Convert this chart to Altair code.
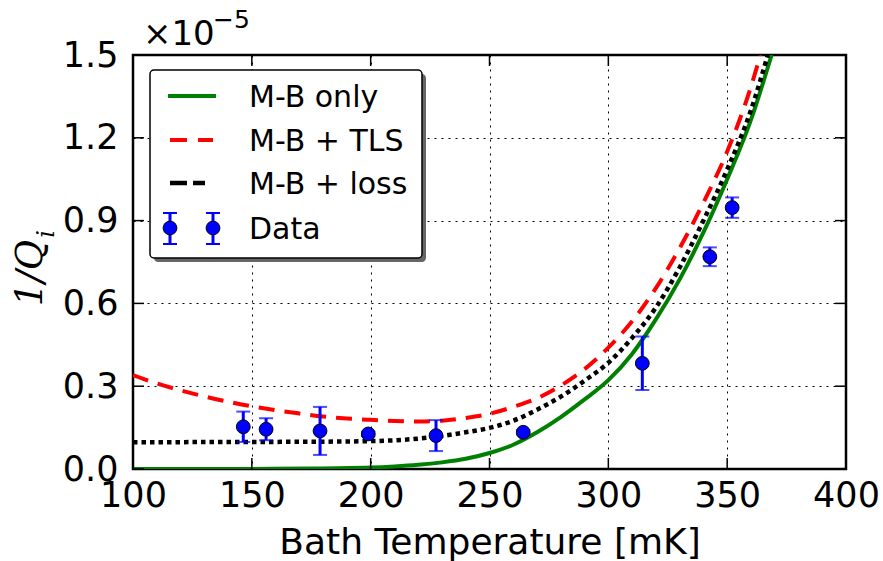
import altair as alt
import pandas as pd

# ---- data ----
x_ticks = [100, 150, 200, 250, 300, 350, 400]
y_ticks = [0.0, 0.3, 0.6, 0.9, 1.2, 1.5]

data_T = [146.4, 156.0, 178.7, 199.0, 227.5, 264.2, 314.3, 342.7, 352.1]
data_Q = [0.153, 0.144, 0.138, 0.127, 0.121, 0.133, 0.383, 0.769, 0.947]
data_err = [0.055, 0.040, 0.087, 0.008, 0.056, 0.008, 0.097, 0.034, 0.037]

mb_T = [100, 150, 175, 200, 210, 220, 230, 240, 250, 260, 270, 280, 290, 300, 310, 320, 330, 340, 350, 360, 368.7]
mb_Q = [0.0, 0.0003, 0.0015, 0.005, 0.009, 0.015, 0.024, 0.037, 0.058, 0.088, 0.133, 0.188, 0.252, 0.322,
        0.417, 0.542, 0.687, 0.857, 1.05, 1.265, 1.5]

tls_T = [100, 110, 120, 130, 140, 150, 160, 170, 180, 190, 200, 210, 220, 230, 240, 250, 260, 270, 280,
         290, 300, 310, 320, 330, 340, 350, 360, 364]
tls_Q = [0.34, 0.31, 0.285, 0.263, 0.244, 0.227, 0.213, 0.201, 0.19, 0.183, 0.178, 0.174, 0.172, 0.175,
         0.185, 0.2, 0.225, 0.256, 0.302, 0.362, 0.44, 0.535, 0.655, 0.8, 0.965, 1.15, 1.385, 1.5]

loss_T = [100, 150, 180, 200, 210, 220, 230, 240, 250, 260, 270, 280, 290, 300, 310, 320, 330, 340, 350,
          360, 367.1]
loss_Q = [0.097, 0.098, 0.099, 0.101, 0.104, 0.11, 0.12, 0.133, 0.149, 0.175, 0.215, 0.262, 0.32, 0.385,
          0.475, 0.585, 0.73, 0.9, 1.085, 1.3, 1.5]

legend_labels = ["M-B only", "M-B + TLS", "M-B + loss", "Data"]

W, H = 713, 414
FONT = "DejaVu Sans"

df_mb = pd.DataFrame({"T": mb_T, "Q": mb_Q})
df_tls = pd.DataFrame({"T": tls_T, "Q": tls_Q})
df_loss = pd.DataFrame({"T": loss_T, "Q": loss_Q})
df_data = pd.DataFrame({"T": data_T, "Q": data_Q, "err": data_err})
df_data["lo"] = df_data["Q"] - df_data["err"]
df_data["hi"] = df_data["Q"] + df_data["err"]
df_xt = pd.DataFrame({"T": x_ticks})
df_yt = pd.DataFrame({"Q": y_ticks})
dummy = pd.DataFrame({"a": [0]})

xscale = alt.Scale(domain=[100, 400], nice=False, zero=False)
yscale = alt.Scale(domain=[0, 1.5], nice=False, zero=False)

x_axis = alt.Axis(values=x_ticks, format="d", grid=True, ticks=False, domain=False,
                  gridColor="black", gridDash=[2, 5], gridWidth=1, gridOpacity=1,
                  labelFont=FONT, labelFontSize=35, labelColor="black", labelPadding=9,
                  labelFlush=False, labelOverlap=False, labelBound=False,
                  title="Bath Temperature [mK]", titleFont=FONT, titleFontSize=36,
                  titleFontWeight="normal", titleColor="black", titlePadding=12)
y_axis = alt.Axis(values=y_ticks, format=".1f", grid=True, ticks=False, domain=False,
                  gridColor="black", gridDash=[2, 5], gridWidth=1, gridOpacity=1,
                  labelFont=FONT, labelFontSize=35, labelColor="black", labelPadding=15,
                  labelFlush=False, labelOverlap=False, labelBound=False,
                  title=None)


def X(f):
    return alt.X(f, type="quantitative", scale=xscale, axis=x_axis)


def Y(f):
    return alt.Y(f, type="quantitative", scale=yscale, axis=y_axis)


mb = alt.Chart(df_mb).mark_line(color="#008000", strokeWidth=4, interpolate="monotone", clip=True).encode(
    x=X("T"), y=Y("Q"))
tls = alt.Chart(df_tls).mark_line(color="#ff0000", strokeWidth=4, strokeDash=[16, 10],
                                  interpolate="monotone", clip=True).encode(x=X("T"), y=Y("Q"))
loss = alt.Chart(df_loss).mark_line(color="black", strokeWidth=4.5, strokeDash=[4.5, 4],
                                    interpolate="monotone", clip=True).encode(x=X("T"), y=Y("Q"))

ebar = alt.Chart(df_data).mark_rule(color="#0000ff", strokeWidth=3).encode(
    x=X("T"), y=Y("lo"), y2="hi:Q")
cap_lo = alt.Chart(df_data).mark_tick(color="#0000ff", orient="horizontal", size=14, thickness=2).encode(
    x=X("T"), y=Y("lo"))
cap_hi = alt.Chart(df_data).mark_tick(color="#0000ff", orient="horizontal", size=14, thickness=2).encode(
    x=X("T"), y=Y("hi"))
pts = alt.Chart(df_data).mark_circle(color="#0000ff", stroke="black", strokeWidth=1, size=190, opacity=1).encode(
    x=X("T"), y=Y("Q"))

# inward ticks on all four sides
tk = dict(color="black", strokeWidth=1.5)
xt_bot = alt.Chart(df_xt).mark_rule(**tk).encode(x=X("T"), y=alt.value(H), y2=alt.value(H - 11))
xt_top = alt.Chart(df_xt).mark_rule(**tk).encode(x=X("T"), y=alt.value(0), y2=alt.value(11))
yt_l = alt.Chart(df_yt).mark_rule(**tk).encode(y=Y("Q"), x=alt.value(0), x2=alt.value(11))
yt_r = alt.Chart(df_yt).mark_rule(**tk).encode(y=Y("Q"), x=alt.value(W), x2=alt.value(W - 11))

# legend (drawn manually, matplotlib style)
lx0, lx1, ly0, ly1 = 17, 289, 15, 203
shadow = alt.Chart(dummy).mark_rect(fill="#666666", cornerRadius=4).encode(
    x=alt.value(lx0 + 4), x2=alt.value(lx1 + 4), y=alt.value(ly0 + 4), y2=alt.value(ly1 + 4))
box = alt.Chart(dummy).mark_rect(fill="white", stroke="black", strokeWidth=1.5, cornerRadius=4).encode(
    x=alt.value(lx0), x2=alt.value(lx1), y=alt.value(ly0), y2=alt.value(ly1))
leg_mb = alt.Chart(dummy).mark_rule(color="#008000", strokeWidth=4).encode(
    x=alt.value(35), x2=alt.value(83), y=alt.value(41))
leg_tls = alt.Chart(dummy).mark_rule(color="#ff0000", strokeWidth=4, strokeDash=[17, 11]).encode(
    x=alt.value(37), x2=alt.value(80), y=alt.value(85))
leg_loss = alt.Chart(dummy).mark_rule(color="black", strokeWidth=4.5, strokeDash=[17, 6]).encode(
    x=alt.value(37), x2=alt.value(72), y=alt.value(128))
leg_layers = [shadow, box, leg_mb, leg_tls, leg_loss]
for px in (37, 80):
    leg_layers.append(alt.Chart(dummy).mark_rule(color="#0000ff", strokeWidth=3).encode(
        x=alt.value(px), y=alt.value(158), y2=alt.value(189)))
    for py in (158, 189):
        leg_layers.append(alt.Chart(dummy).mark_rule(color="#0000ff", strokeWidth=2).encode(
            x=alt.value(px - 7), x2=alt.value(px + 7), y=alt.value(py)))
    leg_layers.append(alt.Chart(dummy).mark_circle(color="#0000ff", stroke="black", strokeWidth=1,
                                                   size=190, opacity=1).encode(
        x=alt.value(px), y=alt.value(173)))
for lab, ty in zip(legend_labels, [52, 95.5, 139, 184]):
    leg_layers.append(alt.Chart(dummy).mark_text(text=lab, font=FONT, fontSize=30, align="left",
                                                 baseline="alphabetic", color="black").encode(
        x=alt.value(116), y=alt.value(ty)))

# y-axis title 1/Q_i and the x10^-5 multiplier
ytitle = alt.Chart(dummy).mark_text(text="1/Q", font="DejaVu Serif", fontStyle="italic", fontSize=37,
                                    angle=270, align="center", baseline="alphabetic", color="black").encode(
    x=alt.value(-91), y=alt.value(218))
ysub = alt.Chart(dummy).mark_text(text="i", font="DejaVu Serif", fontStyle="italic", fontSize=24,
                                  angle=270, align="center", baseline="alphabetic", color="black").encode(
    x=alt.value(-79), y=alt.value(179))
mult = alt.Chart(dummy).mark_text(text="×10", font=FONT, fontSize=34, align="left",
                                  baseline="alphabetic", color="black").encode(
    x=alt.value(10), y=alt.value(-10))
mult_exp = alt.Chart(dummy).mark_text(text="−5", font=FONT, fontSize=25, align="left",
                                      baseline="alphabetic", color="black").encode(
    x=alt.value(80), y=alt.value(-27))

chart = alt.layer(
    mb, tls, loss, ebar, cap_lo, cap_hi, pts,
    xt_bot, xt_top, yt_l, yt_r,
    *leg_layers, ytitle, ysub, mult, mult_exp
).properties(
    width=W, height=H,
    autosize=alt.AutoSizeParams(type="none"),
    padding={"left": 133, "top": 55, "right": 37, "bottom": 92},
    background="white",
).configure_view(stroke="black", strokeWidth=2.5)

chart.save("out.html", embed_options={"renderer": "svg", "actions": False})
